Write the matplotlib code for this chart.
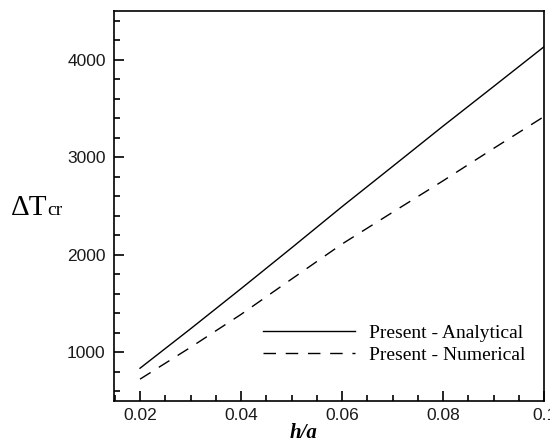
import matplotlib.pyplot as plt
from matplotlib.ticker import MultipleLocator

###### DATA ######

h_a = [0.02, 0.03, 0.04, 0.05, 0.06, 0.07, 0.08, 0.09, 0.10]
dT_analytical = [836, 1240, 1652, 2070, 2493, 2905, 3319, 3725, 4133]
dT_numerical = [724, 1050, 1388, 1750, 2110, 2435, 2758, 3090, 3417]

x_ticks = [0.02, 0.04, 0.06, 0.08, 0.1]
x_tick_labels = ['0.02', '0.04', '0.06', '0.08', '0.1']
y_ticks = [1000, 2000, 3000, 4000]

###### PLOT ######

fig = plt.figure(figsize=(5.5, 4.45), dpi=100)
ax = fig.add_axes([0.2073, 0.0989, 0.7818, 0.8764])

ax.plot(h_a, dT_analytical, color='black', lw=1.0, label='Present - Analytical')
ax.plot(h_a, dT_numerical, color='black', lw=1.0, dashes=(9, 7),
        label='Present - Numerical')

ax.set_xlim(0.01485, 0.1)
ax.set_ylim(500, 4500)
ax.set_xticks(x_ticks)
ax.set_xticklabels(x_tick_labels)
ax.set_yticks(y_ticks)
ax.xaxis.set_minor_locator(MultipleLocator(0.005))
ax.yaxis.set_minor_locator(MultipleLocator(200))

ax.tick_params(which='both', direction='in', top=False, right=False, width=1.2)
ax.tick_params(which='major', length=7)
ax.tick_params(which='minor', length=4)
ax.tick_params(axis='y', pad=6)
ax.tick_params(axis='x', pad=5)
for lab in ax.get_xticklabels() + ax.get_yticklabels():
    lab.set_fontfamily('Liberation Sans')
    lab.set_fontsize(12.5)
    lab.set_color('#1a1a1a')

for sp in ax.spines.values():
    sp.set_linewidth(1.2)

# axis labels
fig.text(0.02, 0.517, '\u0394T', fontfamily='Liberation Serif', fontsize=21,
         ha='left', va='baseline')
fig.text(0.086, 0.517, 'cr', fontfamily='Liberation Serif', fontsize=14,
         ha='left', va='baseline')
fig.text(0.551, 0.005, 'h/a', fontfamily='Liberation Serif', fontsize=15,
         fontweight='bold', fontstyle='italic', ha='center', va='bottom')

leg = ax.legend(loc='upper left', bbox_to_anchor=(0.3465, 0.197), frameon=False,
                prop={'family': 'Liberation Serif', 'size': 14},
                handlelength=4.75, handletextpad=0.72, labelspacing=0.22,
                borderaxespad=0, borderpad=0)

fig.savefig('out.png', dpi=100)
